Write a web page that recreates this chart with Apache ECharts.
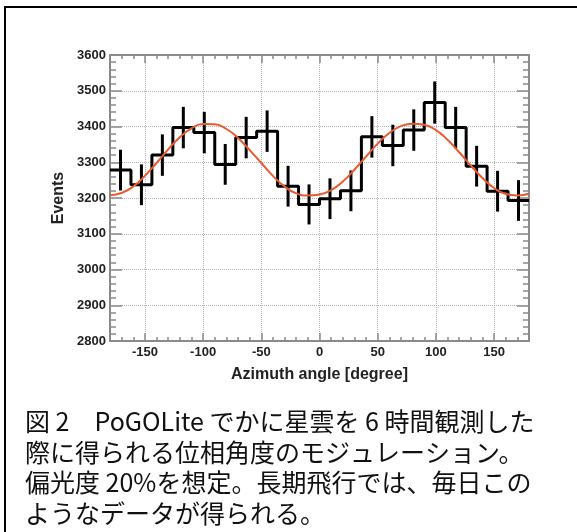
<!DOCTYPE html>
<html>
<head>
<meta charset="utf-8">
<script src="https://cdn.jsdelivr.net/npm/echarts@6/dist/echarts.min.js"></script>
<style>
html, body { margin: 0; padding: 0; background: #fff; }
#mychart { width: 577px; height: 532px; }
</style>
</head>
<body>
<div id="mychart"></div>
<script>
// 方位角ヒストグラム (18度ビン)
var binCenters = [-171, -153, -135, -117, -99, -81, -63, -45, -27, -9, 9, 27, 45, 63, 81, 99, 117, 135, 153, 171];
var counts = [3278, 3237, 3320, 3397, 3383, 3294, 3369, 3387, 3233, 3182, 3198, 3220, 3371, 3347, 3390, 3467, 3397, 3289, 3219, 3193];
var errors = [57, 57, 58, 58, 58, 57, 58, 58, 57, 56, 57, 57, 58, 58, 58, 59, 58, 57, 57, 57];
var binWidth = 18;

// フィット曲線
var fitAngles = [-180, -170, -160, -150, -140, -130, -120, -110, -100, -90, -80, -70, -60, -50, -40, -30, -20, -10, 0,
    10, 20, 30, 40, 50, 60, 70, 80, 90, 100, 110, 120, 130, 140, 150, 160, 170, 180];
var fitValues = [3208, 3214, 3232, 3262, 3298, 3336, 3370, 3395, 3407, 3406, 3393, 3368, 3334, 3298, 3262, 3232, 3213, 3207, 3210,
    3222, 3246, 3279, 3316, 3352, 3382, 3401, 3408, 3405, 3390, 3363, 3328, 3291, 3256, 3228, 3211, 3207, 3212];

var xMajor = [-150, -100, -50, 0, 50, 100, 150];

var caption = [
    '図 2　PoGOLite でかに星雲を 6 時間観測した',
    '際に得られる位相角度のモジュレーション。',
    '偏光度 20%を想定。長期飛行では、毎日この',
    'ようなデータが得られる。'
];

var histData = [];
for (var i = 0; i < binCenters.length; i++) {
    histData.push([binCenters[i] - binWidth / 2, counts[i]]);
}
histData.push([binCenters[binCenters.length - 1] + binWidth / 2, counts[counts.length - 1]]);

var errData = [];
for (var j = 0; j < binCenters.length; j++) {
    errData.push([binCenters[j], counts[j] - errors[j], counts[j] + errors[j]]);
}

var fitData = [];
for (var k = 0; k < fitAngles.length; k++) {
    fitData.push([fitAngles[k], fitValues[k]]);
}

var axisColor = '#8a8a8a';
var labelFont = { fontFamily: 'Liberation Sans', fontWeight: 'bold', fontSize: 13, color: '#222' };

var graphics = [{
    type: 'rect',
    shape: { x: 5, y: 7, width: 700, height: 700 },
    style: { fill: null, stroke: '#000', lineWidth: 2 },
    silent: true
}];
for (var t = 0; t < caption.length; t++) {
    graphics.push({
        type: 'text',
        left: 25,
        top: 409 + t * 30.5,
        style: {
            text: caption[t],
            font: '25px "Noto Sans CJK JP"',
            fill: '#111'
        }
    });
}

var myChart = echarts.init(document.getElementById('mychart'));
myChart.setOption({
    animation: false,
    backgroundColor: '#fff',
    grid: { left: 110, right: 48, top: 55, bottom: 191 },
    graphic: graphics,
    xAxis: [
        {
            type: 'value', min: -180, max: 180, interval: 10, position: 'bottom',
            axisLine: { show: true, onZero: false, lineStyle: { color: axisColor, width: 2 } },
            axisTick: { show: true, inside: true, length: 4, lineStyle: { color: axisColor, width: 1.5 } },
            axisLabel: { show: false },
            splitLine: { show: false }
        },
        {
            type: 'value', min: -180, max: 180, position: 'bottom',
            name: 'Azimuth angle [degree]', nameLocation: 'middle', nameGap: 26,
            nameTextStyle: { fontFamily: 'Liberation Sans', fontWeight: 'bold', fontSize: 16, color: '#222' },
            axisLine: { show: false, onZero: false },
            axisTick: { show: true, inside: true, length: 8, customValues: xMajor, lineStyle: { color: axisColor, width: 1.5 } },
            axisLabel: Object.assign({ customValues: xMajor, margin: 5 }, labelFont),
            splitLine: { show: true, lineStyle: { type: [1, 1], color: '#b5b5b5', width: 1 } }
        },
        {
            type: 'value', min: -180, max: 180, interval: 10, position: 'top',
            axisLine: { show: true, onZero: false, lineStyle: { color: axisColor, width: 2 } },
            axisTick: { show: true, inside: true, length: 4, lineStyle: { color: axisColor, width: 1.5 } },
            axisLabel: { show: false },
            splitLine: { show: false }
        },
        {
            type: 'value', min: -180, max: 180, position: 'top',
            axisLine: { show: false, onZero: false },
            axisTick: { show: true, inside: true, length: 8, customValues: xMajor, lineStyle: { color: axisColor, width: 1.5 } },
            axisLabel: { show: false },
            splitLine: { show: false }
        }
    ],
    yAxis: [
        {
            type: 'value', min: 2800, max: 3600, interval: 100, position: 'left',
            name: 'Events', nameLocation: 'middle', nameGap: 42, nameRotate: 90,
            nameTextStyle: { fontFamily: 'Liberation Sans', fontWeight: 'bold', fontSize: 16, color: '#222' },
            axisLine: { show: true, onZero: false, lineStyle: { color: axisColor, width: 2 } },
            axisTick: { show: true, inside: true, length: 12, lineStyle: { color: axisColor, width: 1.5 } },
            minorTick: { show: true, splitNumber: 5, length: 6, lineStyle: { color: axisColor, width: 1.5 } },
            axisLabel: Object.assign({ margin: 4, formatter: function (v) { return String(v); } }, labelFont),
            splitLine: { show: true, lineStyle: { type: [1, 1], color: '#b5b5b5', width: 1 } }
        },
        {
            type: 'value', min: 2800, max: 3600, interval: 100, position: 'right',
            axisLine: { show: true, onZero: false, lineStyle: { color: axisColor, width: 2 } },
            axisTick: { show: true, inside: true, length: 12, lineStyle: { color: axisColor, width: 1.5 } },
            minorTick: { show: true, splitNumber: 5, length: 6, lineStyle: { color: axisColor, width: 1.5 } },
            axisLabel: { show: false },
            splitLine: { show: false }
        }
    ],
    series: [
        {
            name: 'hist',
            type: 'line',
            step: 'end',
            data: histData,
            symbol: 'none',
            lineStyle: { color: '#000', width: 3 },
            z: 3
        },
        {
            name: 'err',
            type: 'custom',
            data: errData,
            renderItem: function (params, api) {
                var p1 = api.coord([api.value(0), api.value(1)]);
                var p2 = api.coord([api.value(0), api.value(2)]);
                return {
                    type: 'line',
                    shape: { x1: p1[0], y1: p1[1], x2: p2[0], y2: p2[1] },
                    style: { stroke: '#000', lineWidth: 3 }
                };
            },
            encode: { x: 0, y: [1, 2] },
            z: 3
        },
        {
            name: 'fit',
            type: 'line',
            smooth: true,
            data: fitData,
            symbol: 'none',
            lineStyle: { color: '#ea5a30', width: 2 },
            z: 4
        }
    ]
});
</script>
</body>
</html>
